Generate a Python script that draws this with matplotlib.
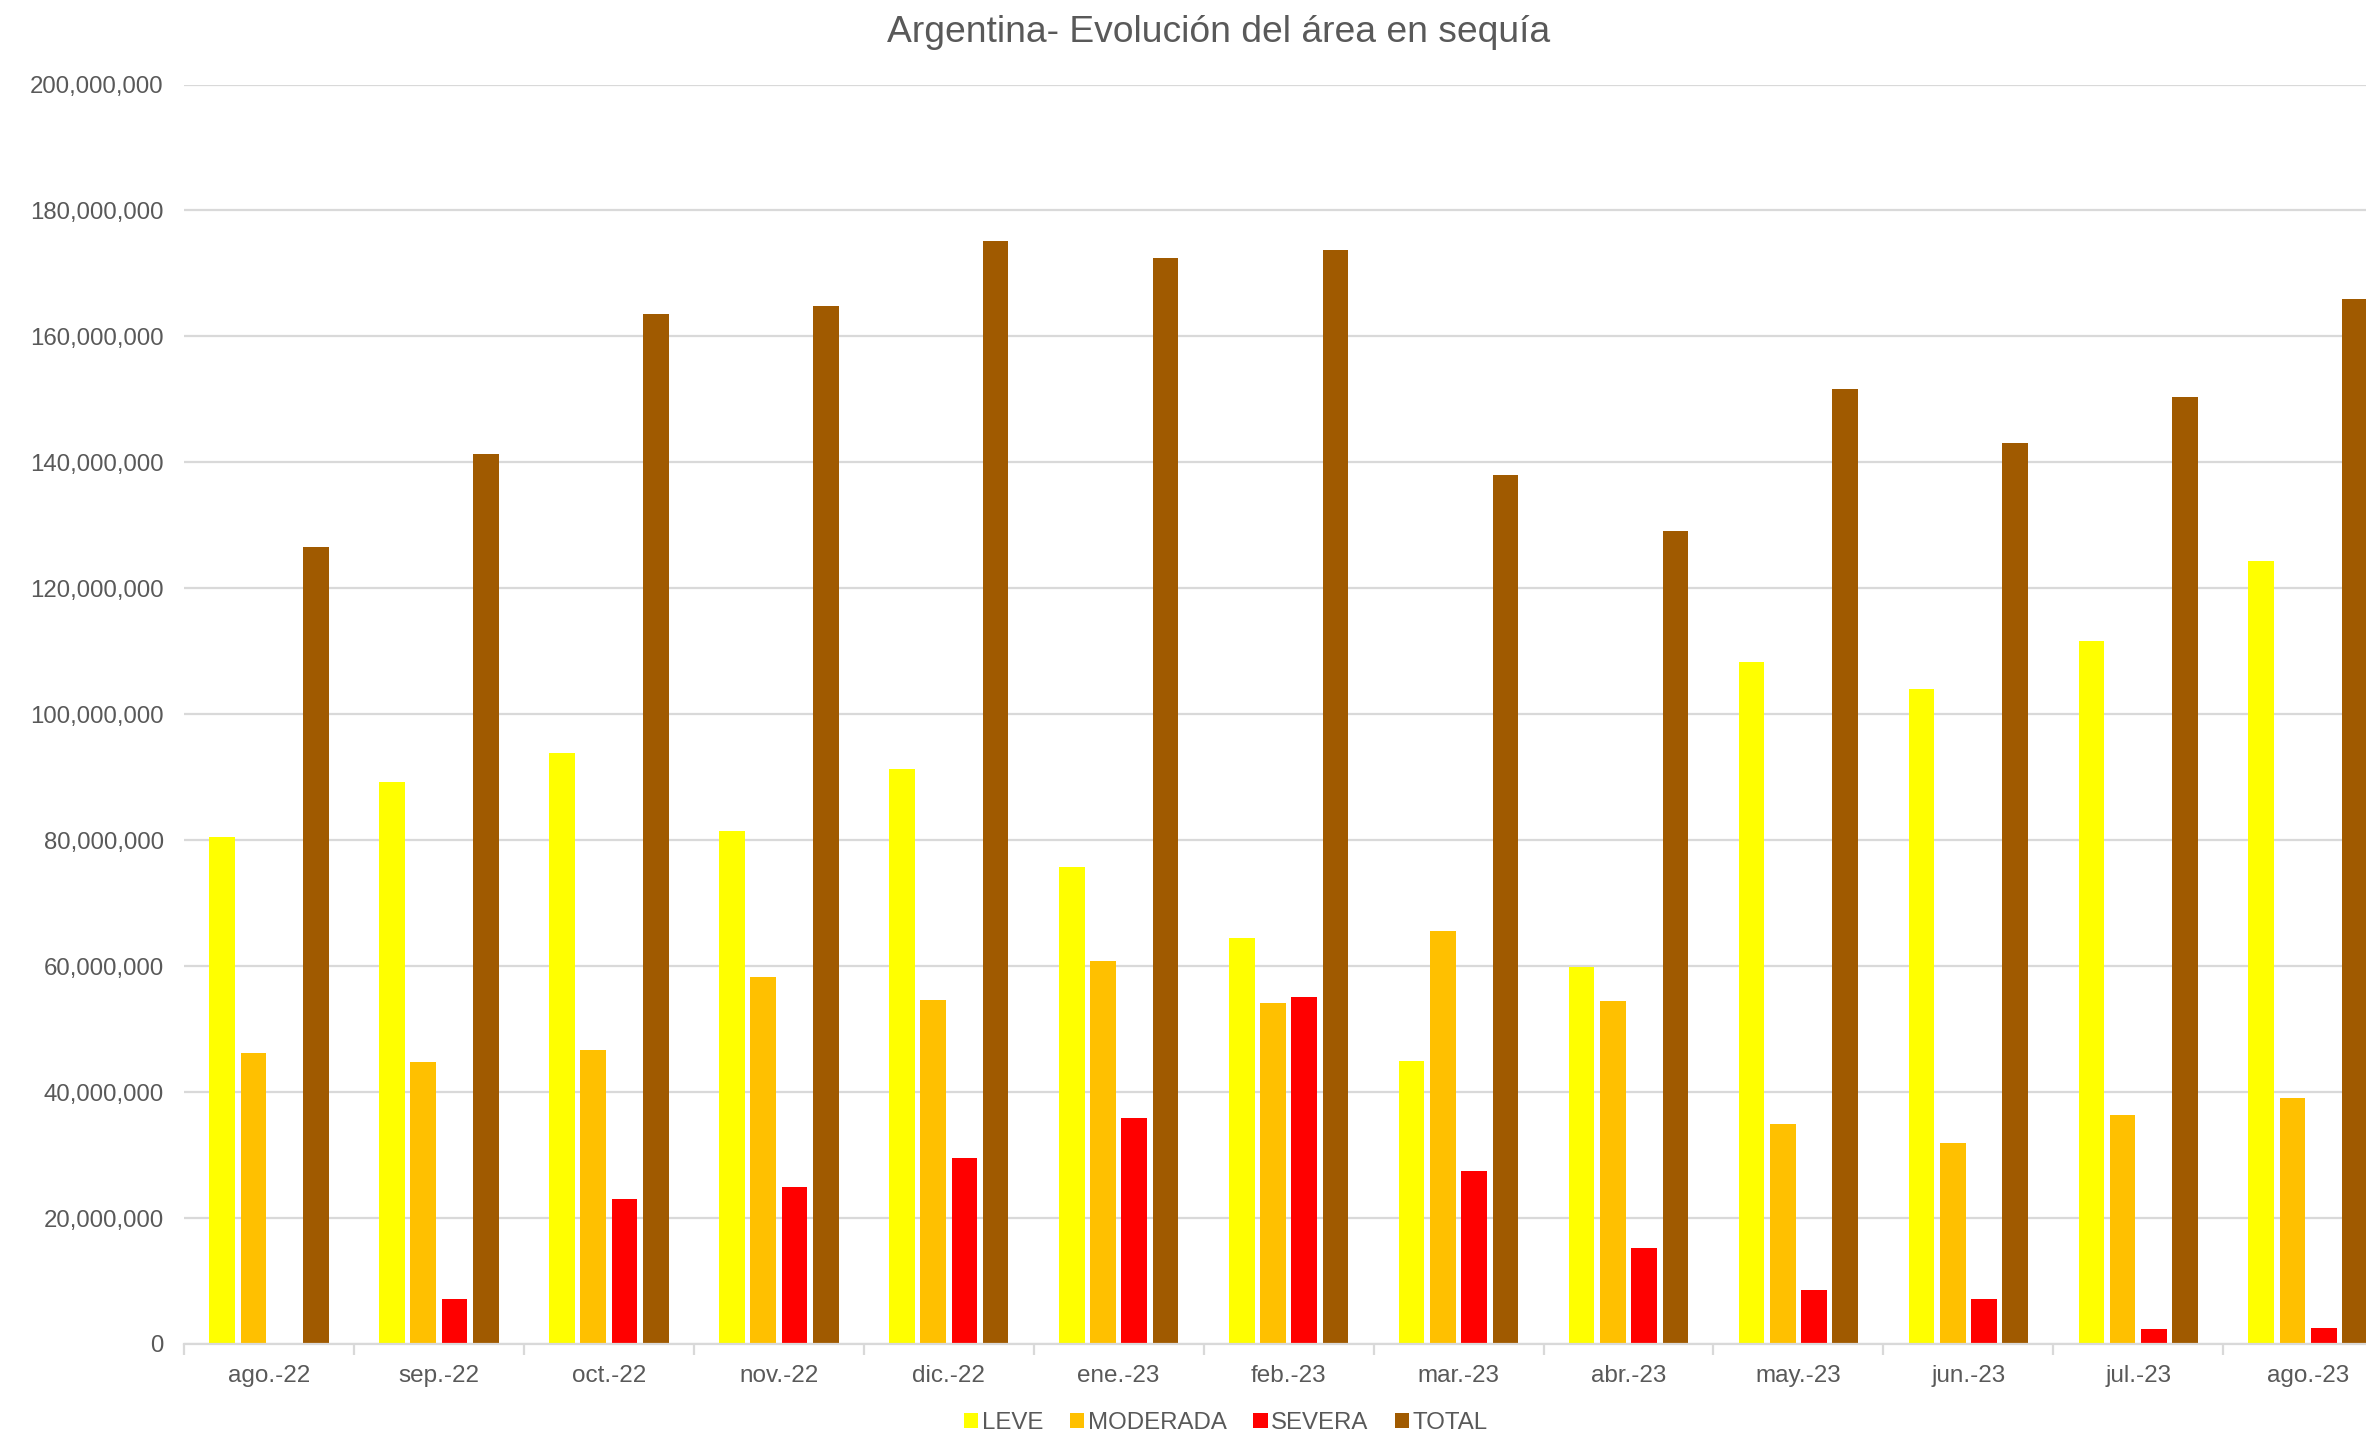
import numpy as np
import matplotlib
matplotlib.use("Agg")
import matplotlib.pyplot as plt
from matplotlib.ticker import FuncFormatter, FixedLocator

categories = ["ago.-22", "sep.-22", "oct.-22", "nov.-22", "dic.-22", "ene.-23", "feb.-23",
              "mar.-23", "abr.-23", "may.-23", "jun.-23", "jul.-23", "ago.-23"]
leve = [80.5, 89.3, 93.9, 81.4, 91.3, 75.7, 64.4, 45.0, 59.9, 108.3, 104.0, 111.6, 124.3]
moderada = [46.2, 44.8, 46.7, 58.2, 54.6, 60.8, 54.1, 65.6, 54.4, 35.0, 31.9, 36.4, 39.0]
severa = [0.0, 7.2, 23.0, 24.9, 29.5, 35.9, 55.1, 27.5, 15.3, 8.6, 7.2, 2.4, 2.6]
total = [126.5, 141.3, 163.6, 164.8, 175.1, 172.5, 173.7, 138.0, 129.1, 151.6, 143.0, 150.4, 166.0]

series = [("LEVE", leve, "#FFFF00"), ("MODERADA", moderada, "#FFC000"),
          ("SEVERA", severa, "#FF0000"), ("TOTAL", total, "#A05A00")]

plt.rcParams['font.family'] = ['Liberation Sans', 'DejaVu Sans']
gray = "#595959"
grid = "#D9D9D9"

W, H = 2366, 1436
fig = plt.figure(figsize=(W / 100, H / 100), dpi=100)
left = 184 / W
bottom = 1 - 1344 / H
top = 1 - 84.5 / H
ax = fig.add_axes([left, bottom, 1 - left, top - bottom])

x = np.arange(len(categories))
step = 0.184
bw = 0.151
for i, (name, vals, col) in enumerate(series):
    ax.bar(x + (i - 1.5) * step, np.array(vals) * 1e6, width=bw, color=col, label=name, zorder=3)

ax.set_ylim(0, 200e6)
ax.set_xlim(-0.5, 12.34)
ax.set_yticks(np.arange(0, 200e6 + 1, 20e6))
ax.yaxis.set_major_formatter(FuncFormatter(lambda v, p: f"{int(v):,}"))
ax.grid(axis='y', color=grid, linewidth=1.6, zorder=0)
ax.set_axisbelow(True)

for s in ["top", "right", "left"]:
    ax.spines[s].set_visible(False)
ax.spines["bottom"].set_color(grid)
ax.spines["bottom"].set_linewidth(1.6)
ax.spines["bottom"].set_zorder(4)

ax.set_xticks(x)
ax.set_xticklabels(categories)
ax.xaxis.set_minor_locator(FixedLocator(np.arange(-0.5, 13, 1.0)))
ax.tick_params(axis='x', which='major', length=0, pad=15, labelsize=17.5, labelcolor=gray)
ax.tick_params(axis='x', which='minor', length=8, width=1.6, color=grid)
ax.tick_params(axis='y', length=0, pad=14.5, labelsize=17.3, labelcolor=gray)

fig.text(1219 / W, 1 - 32 / H, "Argentina- Evolución del área en sequía", ha='center', va='center',
         fontsize=26.8, color=gray)

leg = fig.legend(loc='center', bbox_to_anchor=(1226 / W, 1 - 1423 / H), ncol=4, frameon=False,
                 fontsize=17.3, handlelength=0.6, handleheight=0.6, handletextpad=0.15,
                 columnspacing=1.1, labelcolor=gray)

fig.savefig("out.png", dpi=100)
